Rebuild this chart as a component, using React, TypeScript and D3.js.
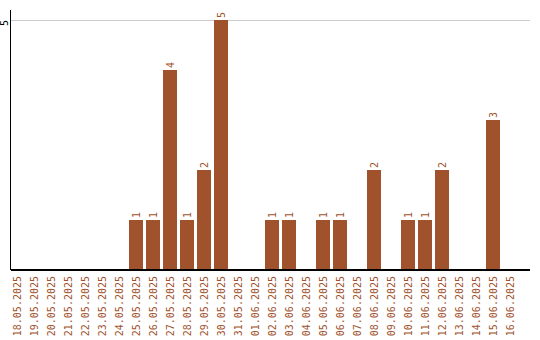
import React from "react";
import * as d3 from "d3";

const dates = [
  "18.05.2025", "19.05.2025", "20.05.2025", "21.05.2025", "22.05.2025", "23.05.2025",
  "24.05.2025", "25.05.2025", "26.05.2025", "27.05.2025", "28.05.2025", "29.05.2025",
  "30.05.2025", "31.05.2025", "01.06.2025", "02.06.2025", "03.06.2025", "04.06.2025",
  "05.06.2025", "06.06.2025", "07.06.2025", "08.06.2025", "09.06.2025", "10.06.2025",
  "11.06.2025", "12.06.2025", "13.06.2025", "14.06.2025", "15.06.2025", "16.06.2025",
];
const counts = [0, 0, 0, 0, 0, 0, 0, 1, 1, 4, 1, 2, 5, 0, 0, 1, 1, 0, 1, 1, 0, 2, 0, 1, 1, 2, 0, 0, 3, 0];
const yTicks = [5];

const W = 540;
const H = 340;
const COLOR = "#a0522d";
const FONT = "'DejaVu Sans Mono', monospace";

export default function App() {
  const x = d3
    .scaleBand<string>()
    .domain(dates)
    .range([8.5, 518.5])
    .paddingInner(3 / 17)
    .paddingOuter(3 / 34);
  const y = d3.scaleLinear().domain([0, 5]).range([270, 20]);
  const axisLeft = 10.5;
  const axisRight = 530;

  return (
    <svg
      width={W}
      height={H}
      style={{ position: "absolute", left: 0, top: 0, display: "block", background: "#fff" }}
    >
      {yTicks.map((t) => (
        <g key={t}>
          <line x1={axisLeft} x2={axisRight} y1={y(t) + 0.5} y2={y(t) + 0.5} stroke="#cccccc" strokeWidth={1} />
          <text
            transform={`translate(4, ${y(t)}) rotate(-90)`}
            dy="0.35em"
            textAnchor="end"
            fontFamily={FONT}
            fontSize={10}
            fill="#000"
          >
            {t}
          </text>
        </g>
      ))}
      {dates.map((d, i) => {
        const v = counts[i];
        const bx = x(d) as number;
        const cx = bx + x.bandwidth() / 2;
        return (
          <g key={d}>
            {v > 0 && (
              <>
                <rect
                  x={bx}
                  y={y(v)}
                  width={x.bandwidth()}
                  height={y(0) - y(v)}
                  fill={COLOR}
                  shapeRendering="crispEdges"
                />
                <text
                  transform={`translate(${cx}, ${y(v) - 2}) rotate(-90)`}
                  dy="0.35em"
                  textAnchor="start"
                  fontFamily={FONT}
                  fontSize={10}
                  fill={COLOR}
                >
                  {v}
                </text>
              </>
            )}
            <text
              transform={`translate(${cx}, 276) rotate(-90)`}
              dy="0.35em"
              textAnchor="end"
              fontFamily={FONT}
              fontSize={10}
              fill={COLOR}
            >
              {d}
            </text>
          </g>
        );
      })}
      <line x1={axisLeft} x2={axisLeft} y1={10} y2={270} stroke="#000" strokeWidth={1.5} shapeRendering="crispEdges" />
      <line x1={axisLeft} x2={axisRight} y1={270} y2={270} stroke="#000" strokeWidth={1.5} shapeRendering="crispEdges" />
    </svg>
  );
}
